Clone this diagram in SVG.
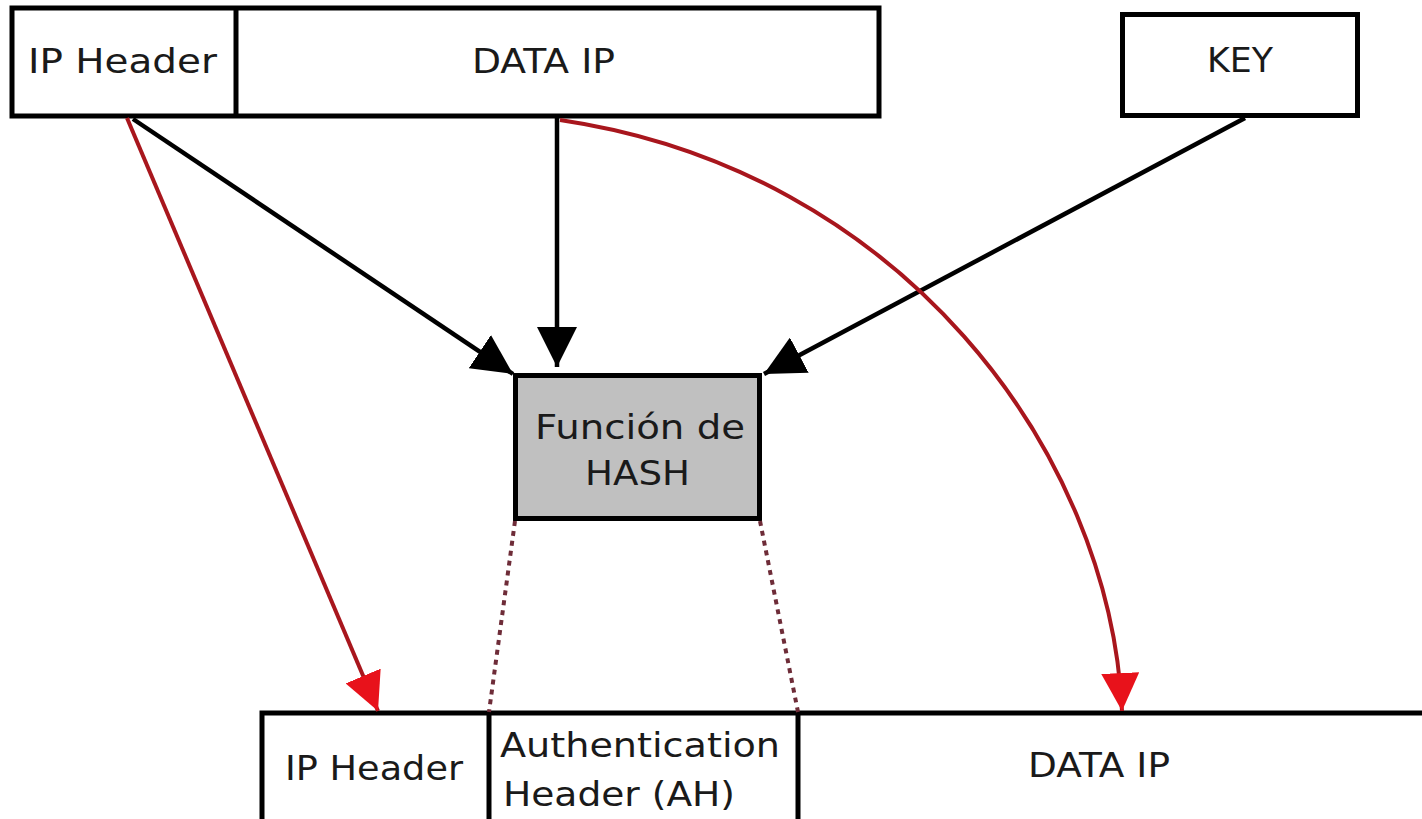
<svg xmlns="http://www.w3.org/2000/svg" width="1422" height="819" viewBox="0 0 1422 819">
  <style>
    .box { fill: #ffffff; stroke: #000000; stroke-width: 5; }
    .hash { fill: #c0c0c0; stroke: #000000; stroke-width: 5; }
    .div { stroke: #000000; stroke-width: 5; }
    .lbl { font-family: "DejaVu Sans", "Liberation Sans", sans-serif; font-size: 33px; fill: #1a1a1a; }
    .blk { fill: none; stroke: #000000; stroke-width: 4.5; }
    .red { fill: none; stroke: #a8161d; stroke-width: 4; }
    .dot { fill: none; stroke: #6e2c38; stroke-width: 4; stroke-dasharray: 5 5; }
  </style>
  <defs>
    <marker id="ab" viewBox="0 0 40 40" refX="40" refY="20" markerWidth="40" markerHeight="40" markerUnits="userSpaceOnUse" orient="auto">
      <path d="M0,0 L40,20 L0,40 Z" fill="#000000"/>
    </marker>
    <marker id="ar" viewBox="0 0 38 38" refX="38" refY="19" markerWidth="38" markerHeight="38" markerUnits="userSpaceOnUse" orient="auto">
      <path d="M0,0 L38,19 L0,38 Z" fill="#e8121b"/>
    </marker>
  </defs>
  <rect x="0" y="0" width="1422" height="819" fill="#ffffff"/>

  <g id="top-packet">
    <rect class="box" x="12" y="8" width="867" height="108"/>
    <line class="div" x1="236" y1="8" x2="236" y2="116"/>
  </g>
  <g id="top-ip-header">
    <text class="lbl" x="28" y="73" textLength="189" lengthAdjust="spacingAndGlyphs">IP Header</text>
  </g>
  <g id="top-data-ip">
    <text class="lbl" x="472" y="73" textLength="143" lengthAdjust="spacingAndGlyphs">DATA IP</text>
  </g>

  <g id="key">
    <rect class="box" x="1122.5" y="14.5" width="235" height="101"/>
    <text class="lbl" x="1207" y="72" textLength="66" lengthAdjust="spacingAndGlyphs">KEY</text>
  </g>

  <g id="hash">
    <rect class="hash" x="515.5" y="375.5" width="244" height="143"/>
    <text class="lbl" x="535" y="439" textLength="210" lengthAdjust="spacingAndGlyphs">Función de</text>
    <text class="lbl" x="585" y="485" textLength="105" lengthAdjust="spacingAndGlyphs">HASH</text>
  </g>

  <g id="bottom-packet">
    <rect class="box" x="262" y="713" width="1200" height="150"/>
    <line class="div" x1="489" y1="713" x2="489" y2="819"/>
    <line class="div" x1="798" y1="713" x2="798" y2="819"/>
  </g>
  <g id="bottom-ip-header">
    <text class="lbl" x="285" y="780" textLength="178" lengthAdjust="spacingAndGlyphs">IP Header</text>
  </g>
  <g id="bottom-ah">
    <text class="lbl" x="500" y="757" textLength="280" lengthAdjust="spacingAndGlyphs">Authentication</text>
    <text class="lbl" x="503" y="806" textLength="232" lengthAdjust="spacingAndGlyphs">Header (AH)</text>
  </g>
  <g id="bottom-data-ip">
    <text class="lbl" x="1028" y="777" textLength="142" lengthAdjust="spacingAndGlyphs">DATA IP</text>
  </g>

  <g id="connectors">
    <path class="blk" d="M133,119 L513,374" marker-end="url(#ab)"/>
    <path class="blk" d="M557,116 L557,367" marker-end="url(#ab)"/>
    <path class="blk" d="M1245,118 L764,374" marker-end="url(#ab)"/>
    <path class="red" d="M127,118 L378,711" marker-end="url(#ar)"/>
    <path class="red" d="M560,120 C900,170 1110,450 1122,711" marker-end="url(#ar)"/>
    <path class="dot" d="M515,521 L489,712"/>
    <path class="dot" d="M760,521 L798,712"/>
  </g>
</svg>
